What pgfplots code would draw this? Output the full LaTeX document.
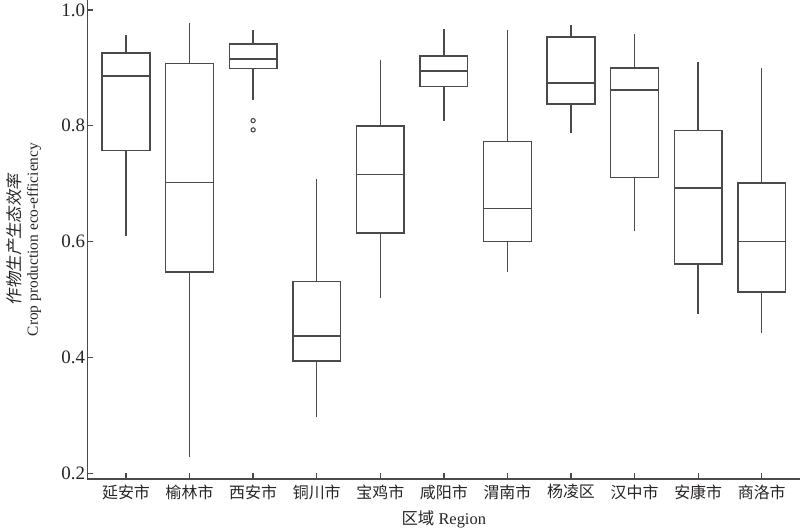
\documentclass[border=0pt]{standalone}
\usepackage{fontspec}
\setmainfont{Liberation Serif}
\newfontfamily\cjk{Noto Sans CJK SC}
\newfontfamily\cjkit[FakeSlant=0.15]{Noto Sans CJK SC}
\usepackage{pgfplots}
\pgfplotsset{compat=1.18}
\usepgfplotslibrary{statistics}
\definecolor{boxline}{RGB}{77,72,74}
\definecolor{txt}{RGB}{40,36,38}

\pgfplotsset{
  rbox/.style={boxline, line width=1.5bp, solid, mark=o,
    mark options={line width=1.1bp, solid}, mark size=2.1bp},
}

\begin{document}
\begin{tikzpicture}
\path[use as bounding box] (-87.5bp,-53bp) rectangle (712.5bp,479bp);
\begin{axis}[
  at={(0,0)}, anchor=south west,
  scale only axis, width=712.5bp, height=479bp,
  xmin=-0.6056, xmax=10.602,
  ymin=0.19015, ymax=1.01727,
  axis x line*=bottom, axis y line*=left,
  axis line style={boxline, line width=1.5bp},
  every tick/.style={boxline, line width=1.3bp},
  major tick length=6bp,
  tick align=inside,
  xtick={0,...,10},
  xticklabels={延安市,榆林市,西安市,铜川市,宝鸡市,咸阳市,渭南市,杨凌区,汉中市,安康市,商洛市},
  xticklabel style={font=\cjk\fontsize{16}{19}\selectfont, text=txt, yshift=-2bp},
  ytick={0.2,0.4,0.6,0.8,1.0},
  /pgf/number format/assume math mode=true,
  yticklabel style={font=\fontsize{19}{22}\selectfont, text=txt, xshift=1bp,
    /pgf/number format/fixed, /pgf/number format/fixed zerofill,
    /pgf/number format/precision=1},
  xlabel={{\cjk 区域} Region},
  xlabel style={at={(axis description cs:0.5,0)}, anchor=center, yshift=-40bp,
    font=\fontsize{16.5}{19}\selectfont, text=txt},
  ylabel={{\cjkit\fontsize{16.5}{17}\selectfont 作物生产生态效率}\\Crop production eco-efficiency},
  ylabel style={at={(axis description cs:-0.0891,0.5)}, anchor=center, align=center,
    font=\fontsize{15.5}{17}\selectfont, text=txt},
  boxplot/draw direction=y,
  boxplot/box extend=0.75,
  boxplot/whisker extend=0,
]
% 延安市
\addplot[rbox, boxplot prepared={draw position=0, lower whisker=0.610,
  lower quartile=0.757, median=0.886, upper quartile=0.926, upper whisker=0.957}] coordinates {};
% 榆林市
\addplot[rbox, boxplot prepared={draw position=1, lower whisker=0.228,
  lower quartile=0.548, median=0.702, upper quartile=0.908, upper whisker=0.978}] coordinates {};
% 西安市 (two outliers)
\addplot[rbox, boxplot prepared={draw position=2, lower whisker=0.845,
  lower quartile=0.899, median=0.915, upper quartile=0.941, upper whisker=0.965}]
  table[row sep=\\, y index=0] {v\\0.809\\0.793\\};
% 铜川市
\addplot[rbox, boxplot prepared={draw position=3, lower whisker=0.298,
  lower quartile=0.394, median=0.437, upper quartile=0.531, upper whisker=0.709}] coordinates {};
% 宝鸡市
\addplot[rbox, boxplot prepared={draw position=4, lower whisker=0.502,
  lower quartile=0.615, median=0.716, upper quartile=0.800, upper whisker=0.913}] coordinates {};
% 咸阳市
\addplot[rbox, boxplot prepared={draw position=5, lower whisker=0.808,
  lower quartile=0.868, median=0.895, upper quartile=0.921, upper whisker=0.967}] coordinates {};
% 渭南市
\addplot[rbox, boxplot prepared={draw position=6, lower whisker=0.547,
  lower quartile=0.600, median=0.657, upper quartile=0.773, upper whisker=0.965}] coordinates {};
% 杨凌区
\addplot[rbox, boxplot prepared={draw position=7, lower whisker=0.787,
  lower quartile=0.838, median=0.874, upper quartile=0.953, upper whisker=0.974}] coordinates {};
% 汉中市
\addplot[rbox, boxplot prepared={draw position=8, lower whisker=0.618,
  lower quartile=0.711, median=0.862, upper quartile=0.900, upper whisker=0.958}] coordinates {};
% 安康市
\addplot[rbox, boxplot prepared={draw position=9, lower whisker=0.475,
  lower quartile=0.561, median=0.693, upper quartile=0.792, upper whisker=0.911}] coordinates {};
% 商洛市
\addplot[rbox, boxplot prepared={draw position=10, lower whisker=0.442,
  lower quartile=0.513, median=0.600, upper quartile=0.701, upper whisker=0.899}] coordinates {};
\end{axis}
\end{tikzpicture}
\end{document}
